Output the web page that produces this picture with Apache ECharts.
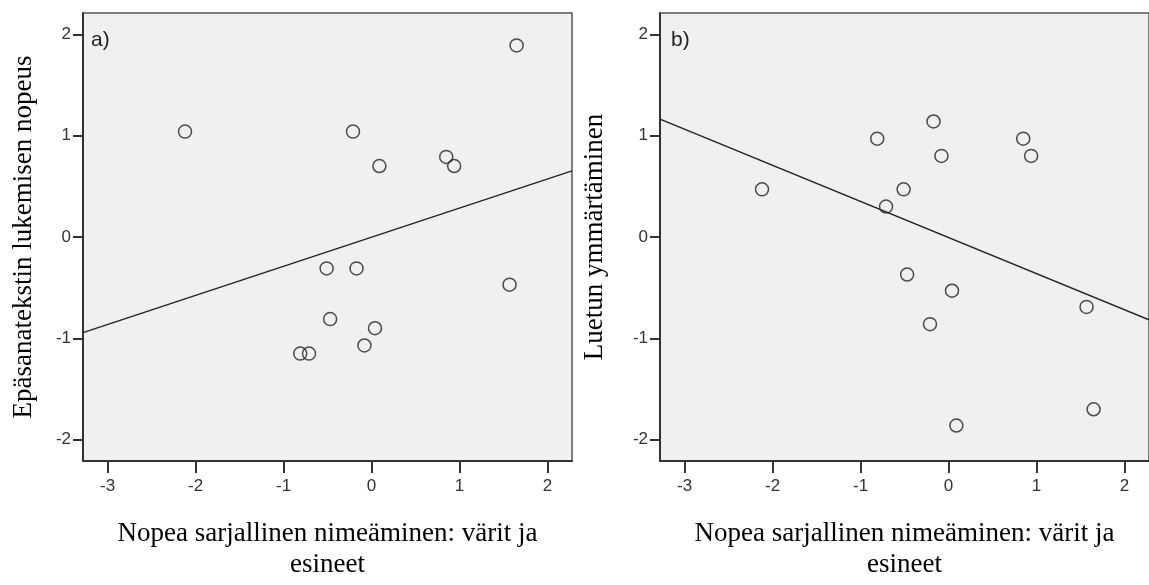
<!DOCTYPE html>
<html>
<head>
<meta charset="utf-8">
<script src="https://cdn.jsdelivr.net/npm/echarts@6/dist/echarts.min.js"></script>
<style>
html,body{margin:0;padding:0;background:#fff;}
#chart{width:1149px;height:585px;}
</style>
</head>
<body>
<div id="chart"></div>
<script>
// Shared x variable (standardized scores)
var xValues = [-2.12, -0.21, 1.65, 0.09, 0.85, 0.94, -0.51, -0.17, 1.57, -0.47, 0.04, -0.08, -0.81, -0.71];
// Panel a) y values
var yValuesA = [1.04, 1.04, 1.89, 0.70, 0.79, 0.70, -0.31, -0.31, -0.47, -0.81, -0.90, -1.07, -1.15, -1.15];
// Panel b) y values
var yValuesB = [0.47, -0.86, -1.70, -1.86, 0.97, 0.80, 0.47, 1.14, -0.69, -0.37, -0.53, 0.80, 0.97, 0.30];
// Tick labels
var xTicks = [-3, -2, -1, 0, 1, 2];
var yTicks = [-2, -1, 0, 1, 2];
var panelLabels = ['a)', 'b)'];
var xTitle = 'Nopea sarjallinen nimeäminen: värit ja\nesineet';
var yTitles = ['Epäsanatekstin lukemisen nopeus', 'Luetun ymmärtäminen'];

var X_MIN = -3.28, X_MAX = 2.28, Y_MIN = -2.21, Y_MAX = 2.21;

function fit(xs, ys) {
  var n = xs.length, mx = 0, my = 0, sxy = 0, sxx = 0;
  for (var i = 0; i < n; i++) { mx += xs[i]; my += ys[i]; }
  mx /= n; my /= n;
  for (var j = 0; j < n; j++) { sxy += (xs[j] - mx) * (ys[j] - my); sxx += (xs[j] - mx) * (xs[j] - mx); }
  var b = sxy / sxx, a = my - b * mx;
  return [[X_MIN, a + b * X_MIN], [X_MAX, a + b * X_MAX]];
}
function pairs(xs, ys) { return xs.map(function (x, i) { return [x, ys[i]]; }); }

var tickFont = { color: '#333', fontSize: 17, fontFamily: 'Liberation Sans, Arial, sans-serif' };
var titleFont = { color: '#000', fontSize: 27, fontFamily: 'Liberation Serif, Times New Roman, serif' };

function xAxis(gi) {
  return {
    type: 'value', gridIndex: gi, min: X_MIN, max: X_MAX,
    name: xTitle, nameLocation: 'middle', nameGap: 57,
    nameTextStyle: Object.assign({ lineHeight: 31 }, titleFont),
    splitLine: { show: false },
    axisLine: { show: true, onZero: false, lineStyle: { color: '#333', width: 2 } },
    axisTick: { show: true, length: 12, customValues: xTicks, lineStyle: { color: '#333', width: 2 } },
    axisLabel: Object.assign({ customValues: xTicks, margin: 17 }, tickFont)
  };
}
function yAxis(gi) {
  return {
    type: 'value', gridIndex: gi, min: Y_MIN, max: Y_MAX,
    name: yTitles[gi], nameLocation: 'middle', nameGap: gi === 0 ? 46 : 52, nameRotate: 90,
    nameTextStyle: titleFont,
    splitLine: { show: false },
    axisLine: { show: true, onZero: false, lineStyle: { color: '#333', width: 2 } },
    axisTick: { show: true, length: 10, customValues: yTicks, lineStyle: { color: '#333', width: 2 } },
    axisLabel: Object.assign({ customValues: yTicks, margin: 12 }, tickFont)
  };
}

var scatterStyle = { color: 'transparent', borderColor: '#222', borderWidth: 1.5 };
var lineStyle = { color: '#222', width: 1.4 };

var chart = echarts.init(document.getElementById('chart'));
chart.setOption({
  animation: false,
  backgroundColor: '#fff',
  grid: [
    { left: 83, top: 13, width: 489, height: 460, show: true, backgroundColor: '#f0f0f0', borderColor: '#555', borderWidth: 1.5 },
    { left: 660, top: 13, width: 499, height: 460, show: true, backgroundColor: '#f0f0f0', borderColor: '#555', borderWidth: 1.5 }
  ],
  xAxis: [xAxis(0), xAxis(1)],
  yAxis: [yAxis(0), yAxis(1)],
  graphic: [
    { type: 'text', left: 91, top: 30, style: { text: panelLabels[0], fill: '#222', font: '21px Liberation Sans, Arial, sans-serif' } },
    { type: 'text', left: 671, top: 30, style: { text: panelLabels[1], fill: '#222', font: '21px Liberation Sans, Arial, sans-serif' } }
  ],
  series: [
    { type: 'scatter', xAxisIndex: 0, yAxisIndex: 0, symbol: 'circle', symbolSize: 13, itemStyle: scatterStyle, data: pairs(xValues, yValuesA) },
    { type: 'line', xAxisIndex: 0, yAxisIndex: 0, showSymbol: false, symbol: 'none', lineStyle: lineStyle, data: fit(xValues, yValuesA) },
    { type: 'scatter', xAxisIndex: 1, yAxisIndex: 1, symbol: 'circle', symbolSize: 13, itemStyle: scatterStyle, data: pairs(xValues, yValuesB) },
    { type: 'line', xAxisIndex: 1, yAxisIndex: 1, showSymbol: false, symbol: 'none', lineStyle: lineStyle, data: fit(xValues, yValuesB) }
  ]
});
</script>
</body>
</html>
